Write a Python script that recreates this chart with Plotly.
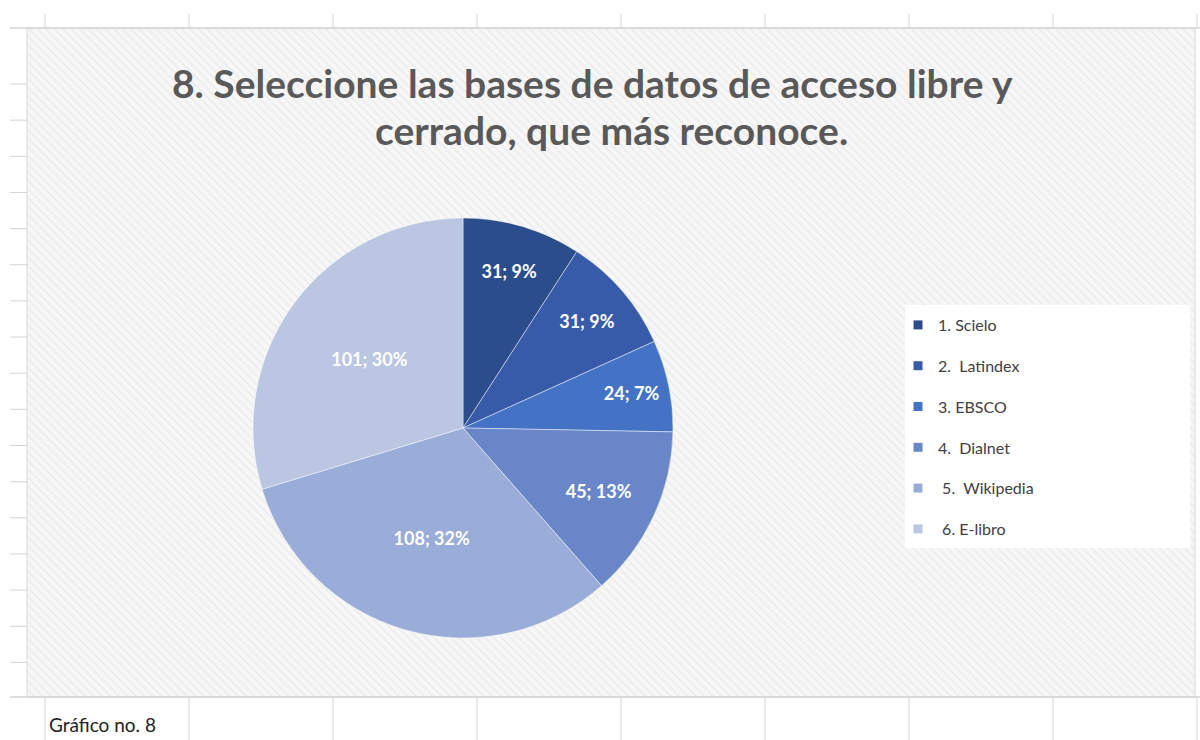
import plotly.graph_objects as go

# ---- data ----
labels = ["1. Scielo", "2.  Latindex", "3. EBSCO", "4.  Dialnet", " 5.  Wikipedia", " 6. E-libro"]
values = [31, 31, 24, 45, 108, 101]
colors = ["#2C4D8C", "#375BA8", "#4472C4", "#6987C8", "#9AACD8", "#BAC6E2"]
title_lines = ["8. Seleccione las bases de datos de acceso libre y", "cerrado, que más reconoce."]
caption = "Gráfico no. 8"

W, H = 1200, 740
FONT = "Lato"

fig = go.Figure()

# chart-area hatched background
fig.add_trace(go.Scatter(
    x=[27, 1195, 1195, 27, 27], y=[28, 28, 697, 697, 28],
    mode="lines", fill="toself", line=dict(color="#D9D9D9", width=1),
    fillcolor="#F6F6F6",
    fillpattern=dict(shape="\\", fgcolor="#E4E4E4", bgcolor="#F7F7F7", size=6, solidity=0.35),
    hoverinfo="skip", showlegend=False))

# legend white box
fig.add_shape(type="rect", x0=905, x1=1190, y0=305, y1=548, xref="x", yref="y",
              fillcolor="white", line=dict(width=0), layer="above")

# pie (domain in paper coords)
cx, cy, r = 463, 428, 210
fig.add_trace(go.Pie(
    labels=labels, values=values, sort=False, direction="clockwise", rotation=0,
    marker=dict(colors=colors, line=dict(color="rgba(255,255,255,0.45)", width=1)),
    texttemplate="%{value}; %{percent:.0%}", textposition="inside",
    insidetextorientation="horizontal",
    textfont=dict(family=FONT, size=18, color="white", weight="bold"),
    domain=dict(x=[(cx - r) / W, (cx + r) / W], y=[(H - cy - r) / H, (H - cy + r) / H]),
    showlegend=False, hoverinfo="label+value+percent"))

# legend entries (one per slice, same data)
for i, (lab, col) in enumerate(zip(labels, colors)):
    fig.add_trace(go.Scatter(
        x=[None], y=[None], mode="markers", name=lab, legendgroup=f"g{i}",
        marker=dict(symbol="square", size=9, color=col)))

# spreadsheet grid around the chart
grid_col = "#D4D4D4"
for gx in [45, 189, 333, 477, 621, 765, 909, 1053, 1197]:
    fig.add_shape(type="line", x0=gx, x1=gx, y0=14, y1=28, line=dict(color=grid_col, width=1))
    fig.add_shape(type="line", x0=gx, x1=gx, y0=697, y1=740, line=dict(color=grid_col, width=1))
for k in range(17):
    gy = 84 + k * 36.15
    fig.add_shape(type="line", x0=10, x1=27, y0=gy, y1=gy, line=dict(color=grid_col, width=1))
fig.add_shape(type="line", x0=10, x1=1200, y0=28, y1=28, line=dict(color=grid_col, width=1.5))
fig.add_shape(type="line", x0=10, x1=1200, y0=697, y1=697, line=dict(color=grid_col, width=1.5))

# title lines
fig.add_annotation(x=592, y=83, xref="x", yref="y", text=title_lines[0], showarrow=False,
                   font=dict(family=FONT, size=39, color="#595959", weight="bold"))
fig.add_annotation(x=611, y=130, xref="x", yref="y", text=title_lines[1], showarrow=False,
                   font=dict(family=FONT, size=39, color="#595959", weight="bold"))
# caption
fig.add_annotation(x=47, y=724, xref="x", yref="y", text=caption, showarrow=False,
                   xanchor="left", font=dict(family=FONT, size=19, color="#222222"))

fig.update_layout(
    width=W, height=H, margin=dict(l=0, r=0, t=0, b=0),
    paper_bgcolor="white", plot_bgcolor="white",
    xaxis=dict(range=[0, W], visible=False, domain=[0, 1], fixedrange=True),
    yaxis=dict(range=[H, 0], visible=False, domain=[0, 1], fixedrange=True),
    legend=dict(x=898 / W, y=1 - 308 / H, xanchor="left", yanchor="top",
                bgcolor="rgba(0,0,0,0)", tracegroupgap=17,
                font=dict(family=FONT, size=16, color="#404040")),
    font=dict(family=FONT),
)

fig.write_html("out.html", config={"displayModeBar": False},
               post_script="document.body.style.margin='0';document.body.style.overflow='hidden';")
